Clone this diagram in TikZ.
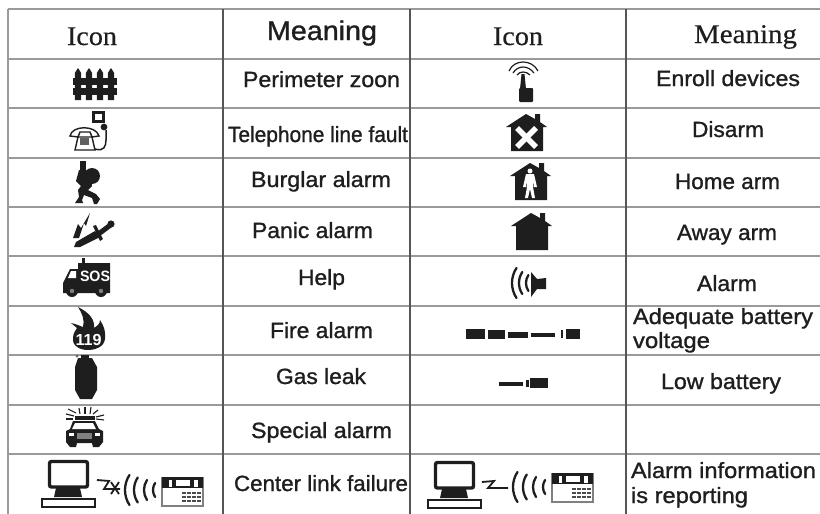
\documentclass[tikz,border=0pt]{standalone}
\usepackage{fontspec}
\usepackage{graphicx}
\newfontfamily\labfont[FakeBold=1.1]{Liberation Sans}
\newfontfamily\headfont[FakeBold=0.4]{Liberation Serif}
\definecolor{ink}{HTML}{1E1E1E}
\definecolor{rule}{HTML}{9A9A9A}
\definecolor{vrule}{HTML}{555555}
\tikzset{
  lab/.style={anchor=base west,inner sep=0pt,outer sep=0pt,text=ink,font=\labfont\fontsize{22}{22}\selectfont},
  labbig/.style={anchor=base west,inner sep=0pt,outer sep=0pt,text=ink,font=\labfont\fontsize{27}{27}\selectfont},
  hd/.style={anchor=base west,inner sep=0pt,outer sep=0pt,text=ink,font=\headfont\fontsize{27}{27}\selectfont},
  hline/.style={draw=rule,line width=1.1pt},
  vline/.style={draw=vrule,line width=1.1pt},
  wave/.style={draw=ink,line width=2.3pt,line cap=round}
}
\newcommand{\lbl}[6]{\node[#1] (#2) at (#3,#4) {\resizebox{#5pt}{\height}{#6}};}
\newcommand{\wv}[3]{\draw[wave] ({#1+#3*0.3},{#2-#3}) .. controls ({#1-#3*0.1},{#2-#3*0.4}) and ({#1-#3*0.1},{#2+#3*0.4}) .. ({#1+#3*0.3},{#2+#3});}
\newcommand{\computer}[2]{\begin{scope}[shift={(#1,#2)}]
  \draw[draw=ink,line width=3.4pt,rounded corners=2pt] (49.5,461.5) rectangle (87.5,487);
  \fill[ink] (56,488) -- (80,488) -- (82,497) -- (54,497) -- cycle;
  \draw[draw=ink,line width=2.4pt] (42,499) rectangle (95,507);
\end{scope}}
\newcommand{\panel}[2]{\begin{scope}[shift={(#1,#2)}]
  \draw[draw=gray,line width=1.8pt,fill=white] (162,478) rectangle (203,506);
  \fill[ink] (162,477) rectangle (203,488);
  \fill[white] (169,480) rectangle (172,487);
  \fill[white] (176,480) rectangle (190,486);
  \fill[white] (194,480) rectangle (198,487);
  \foreach \px in {184,189,194,199} \foreach \py in {493,497,501} \fill[ink!80] (\px-2,\py-1.2) rectangle (\px+2,\py+1.2);
\end{scope}}
\newcommand{\house}[2]{\begin{scope}[shift={(#1,#2)}]
  \fill[ink] (0,0) -- (9,5) -- (9,0) -- (14,0) -- (14,8) -- (21,13) -- (17,13) -- (17,37) -- (-15,37) -- (-15,13) -- (-20,13) -- cycle;
\end{scope}}
\begin{document}
\begin{tikzpicture}[x=1pt,y=-1pt]
\useasboundingbox (0,0) rectangle (820,514);
\fill[white] (0,0) rectangle (820,514);
% grid
\foreach \yy in {9,59,108,158,207,256,306,355,405,454} \draw[hline] (8,\yy) -- (820,\yy);
\draw[draw=rule,line width=1.3pt] (8,9) -- (8,514);
\foreach \xx in {223,410,626} \draw[vline] (\xx,9) -- (\xx,514);
% headers
\lbl{hd}{iconA}{67}{45}{50}{Icon}
\lbl{labbig}{meanA}{267}{40}{110}{Meaning}
\lbl{hd}{iconB}{493}{45}{50}{Icon}
\lbl{hd}{meanB}{694}{43}{103}{Meaning}
% left labels
\lbl{lab}{a1}{243}{87}{157}{Perimeter zoon}
\lbl{lab}{a2}{228}{142}{180}{Telephone line fault}
\lbl{lab}{a3}{251}{187}{140}{Burglar alarm}
\lbl{lab}{a4}{252}{238}{121}{Panic alarm}
\lbl{lab}{a5}{298}{285}{47}{Help}
\lbl{lab}{a6}{270}{338}{103}{Fire alarm}
\lbl{lab}{a7}{276}{384}{90}{Gas leak}
\lbl{lab}{a8}{251}{438}{141}{Special alarm}
\lbl{lab}{a9}{234}{491}{174}{Center link failure}
% right labels
\lbl{lab}{b1}{656}{86}{144}{Enroll devices}
\lbl{lab}{b2}{692}{137}{72}{Disarm}
\lbl{lab}{b3}{675}{189}{105}{Home arm}
\lbl{lab}{b4}{677}{240}{100}{Away arm}
\lbl{lab}{b5}{697}{291}{60}{Alarm}
\lbl{lab}{b6}{633}{324}{180}{Adequate battery}
\lbl{lab}{b6x}{633}{348}{77}{voltage}
\lbl{lab}{b7}{661}{389}{120}{Low battery}
\lbl{lab}{b9}{631}{478}{185}{Alarm information}
\lbl{lab}{b9x}{631}{503}{117}{is reporting}
% fence
\foreach \xx in {78,89,100,111} \fill[ink] (\xx-3.2,100) -- (\xx-3.2,73) -- (\xx,68) -- (\xx+3.2,73) -- (\xx+3.2,100) -- cycle;
\fill[ink] (73,78) rectangle (117,84.5);
\fill[ink] (73,88) rectangle (117,95);
% telephone
\draw[draw=ink,line width=3pt] (93.5,112.5) rectangle (103.5,121);
\draw[draw=ink,line width=1.4pt,fill=white] (78,137) -- (92,137) -- (95,150) -- (75,150) -- cycle;
\draw[draw=ink,line width=1.4pt,fill=white] (70,136) .. controls (72,125) and (96,125) .. (99,136) -- (92,137) -- (90,132) -- (80,132) -- (78,137) -- cycle;
\fill[ink!70] (80,138) rectangle (89,145);
\draw[draw=ink,line width=1.5pt] (95,149) .. controls (104,152) and (106,146) .. (106,140) -- (106,130);
\fill[ink] (104,127) circle[radius=3.4];
% burglar
\fill[ink] (79.5,161) rectangle (85.5,171);
\fill[ink] (92,176) circle[radius=8];
\fill[ink] (79,170) -- (90,172) -- (92,186) -- (88,190) -- (96,194) -- (100,199) -- (97,204) -- (94,204) -- (92,198) -- (84,195) -- (82,200) -- (83,203) -- (75,203) -- (79,197) -- (78,190) -- (81,186) -- (76,181) -- cycle;
% panic
\fill[ink] (74,247) -- (76,242) -- (95,231) -- (100,237) -- (80,247) -- cycle;
\fill[ink] (93,226) -- (96,225) -- (103,239) -- (100,241) -- cycle;
\fill[ink] (97,232) -- (109,223) -- (112,227) -- (100,236) -- cycle;
\fill[ink] (111,224) circle[radius=3.6];
\fill[ink] (90,213) -- (86,226) -- (84,223) -- (79,238) -- (73,238) -- (78,224) -- (81,228) -- cycle;
% SOS truck
\fill[ink] (82,258) rectangle (85,264);
\fill[ink] (63,283) -- (70,269) -- (78,269) -- (78,263) -- (110,263) -- (110,293) -- (63,293) -- cycle;
\fill[white] (68,278) -- (71,271) -- (76,271) -- (76,278) -- cycle;
\fill[ink] (72,291) circle[radius=6];
\fill[ink] (101,291) circle[radius=6];
\fill[gray] (72,291) circle[radius=2.2];
\fill[gray] (101,291) circle[radius=2.2];
\node[anchor=center,inner sep=0pt,text=white] (sostext) at (95,276) {\resizebox{30pt}{\height}{\fontsize{15}{15}\fontspec{Liberation Sans}\bfseries SOS}};
% fire
\fill[ink] (78,307) .. controls (90,313) and (95,320) .. (94,328) .. controls (97,326) and (100,324) .. (100,320) .. controls (104,326) and (106,332) .. (105,339) .. controls (104,347) and (95,350) .. (88,350) .. controls (80,350) and (72,346) .. (73,338) .. controls (73,333) and (76,330) .. (77,328) .. controls (75,326) and (73,325) .. (71,323) .. controls (76,324) and (80,326) .. (83,327) .. controls (85,320) and (82,313) .. (78,307) -- cycle;
\node[anchor=center,inner sep=0pt,text=white] (firetext) at (88.5,340) {\resizebox{26pt}{\height}{\fontsize{16}{16}\fontspec{Liberation Sans}\bfseries 119}};
% gas
\fill[ink] (78,358) -- (92,358) -- (97,367) -- (97,390) -- (92,399) -- (80,399) -- (75,390) -- (75,367) -- cycle;
\fill[ink] (81,355) rectangle (89,359);
\fill[ink!70] (77,356) circle[radius=1.5];
% car
\foreach \aa/\ab/\ac/\ad in {66/414/74/416,68/409/76/413,79/408/80/414,85/407/85/414,91/407/90/414,98/410/93/414,104/415/96/417,66/419/73/419,104/420/96/419}
  \draw[draw=ink,line width=1.1pt] (\aa,\ab) -- (\ac,\ad);
\fill[ink] (75,416) rectangle (95,420);
\fill[ink] (73,421) -- (95,421) -- (99,429) -- (103,431) -- (103,442) -- (99,447) -- (93,447) -- (92,443) -- (77,443) -- (76,447) -- (70,447) -- (66,442) -- (66,431) -- (70,429) -- cycle;
\fill[white] (75,423) -- (93,423) -- (96,429) -- (72,429) -- cycle;
\fill[white] (69,433) rectangle (74,436);
\fill[white] (95,433) rectangle (100,436);
\fill[gray] (77,433) rectangle (92,439);
% link failure
\computer{0}{0}
\draw[draw=ink,line width=1.8pt] (97,480) -- (109,481) -- (104,489) -- (120,489);
\draw[draw=ink,line width=1.8pt] (111,482) -- (119,494);
\draw[draw=ink,line width=1.8pt] (119,482) -- (111,494);
\wv{125}{490}{15}
\wv{134}{490}{12.5}
\wv{144}{490}{10}
\wv{153}{490}{7}
\panel{0}{0}
% enroll
\draw[draw=ink,line width=1.2pt] (509,71) .. controls (514,59) and (532,59) .. (538,71);
\draw[draw=ink,line width=1.2pt] (513,73) .. controls (518,65) and (528,65) .. (534,73);
\draw[draw=ink,line width=1.2pt] (517,75) .. controls (520,71) and (526,71) .. (530,75);
\fill[ink] (521.5,74) -- (524.5,74) -- (526,89) -- (520,89) -- cycle;
\fill[ink,rounded corners=1pt] (519,88) rectangle (533,102);
% disarm
\house{526}{114}
\draw[white,line width=5.5pt] (517,128) -- (536,147);
\draw[white,line width=5.5pt] (536,128) -- (517,147);
% home arm
\house{530}{163}
\fill[white] (530,171) circle[radius=2.5];
\fill[white] (526,174) -- (534,174) -- (537,187) -- (534,187) -- (533.5,180) -- (533,187) -- (535,198) -- (532,198) -- (530,189) -- (528,198) -- (525,198) -- (527,187) -- (526.5,180) -- (526,187) -- (523,187) -- cycle;
% away arm
\house{531}{213}
% alarm
\fill[ink] (531,272) -- (537,279) -- (546,278) -- (546,289) -- (537,289) -- (531,297) -- cycle;
\wv{512}{283}{15}
\wv{519}{283}{11}
\wv{526}{283}{8}
% batteries
\fill[ink] (466,329) rectangle (485,339);
\fill[ink] (488,329.5) rectangle (505,338.5);
\fill[ink] (508,331.5) rectangle (528,337.5);
\fill[ink] (531,332.5) rectangle (555,336.5);
\fill[ink] (561,330) rectangle (563,338);
\fill[ink] (566,329) rectangle (580,339);
\fill[ink] (499,381.5) rectangle (523,385.5);
\fill[ink] (526,380) rectangle (529,387);
\fill[ink] (530,378) rectangle (548,388);
% reporting
\computer{386}{1}
\draw[draw=ink,line width=1.8pt] (482,482) -- (494,481) -- (488,488) -- (508,488);
\wv{513}{487}{15}
\wv{523}{487}{12.5}
\wv{533}{487}{10}
\wv{543}{487}{7}
\panel{390}{-4}
\end{tikzpicture}
\end{document}
